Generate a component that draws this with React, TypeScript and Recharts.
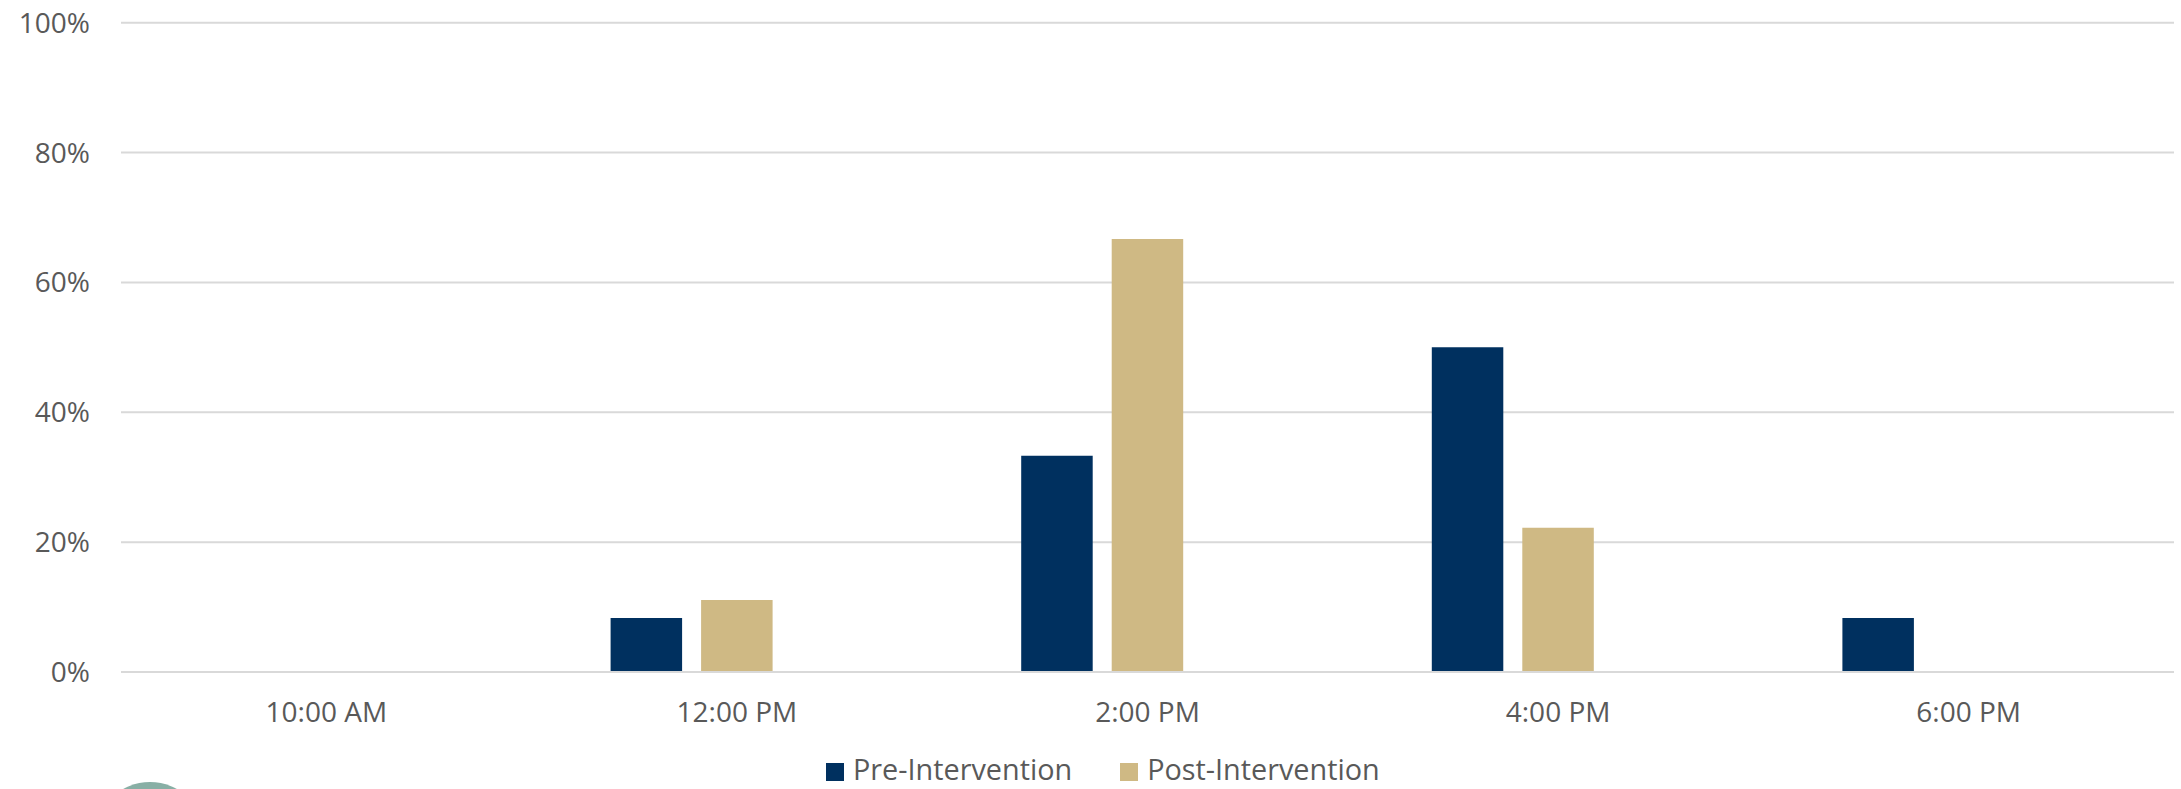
import React from 'react';
import { BarChart, Bar, XAxis, YAxis, CartesianGrid, Legend } from 'recharts';

// Share of events by time of day, before and after the intervention (percent)
const timeSlots = ['10:00 AM', '12:00 PM', '2:00 PM', '4:00 PM', '6:00 PM'];
const preIntervention = [0, 8.3, 33.3, 50, 8.3];
const postIntervention = [0, 11.1, 66.7, 22.2, 0];
// Third slot in each cluster carries no values; it keeps the two visible bars left of the tick
const reservedSlot = [0, 0, 0, 0, 0];
const percentTicks = [0, 20, 40, 60, 80, 100];
const seriesOrder = ['Pre-Intervention', 'Post-Intervention'];

const NAVY = '#00305F';
const GOLD = '#CFB984';
const TEXT = '#595959';
const GRID = '#D9D9D9';
const FONT = '"Open Sans", sans-serif';

const rows = timeSlots.map((slot, i) => ({
  slot,
  pre: preIntervention[i],
  post: postIntervention[i],
  reserved: reservedSlot[i],
}));

const renderLegend = (props: any) => {
  const items = (props.payload || [])
    .filter((p: any) => p.type !== 'none' && seriesOrder.includes(p.value))
    .sort((a: any, b: any) => seriesOrder.indexOf(a.value) - seriesOrder.indexOf(b.value));
  return (
    <div style={{ display: 'flex', alignItems: 'flex-start', height: 28, fontFamily: FONT }}>
      {items.map((item: any, idx: number) => (
        <div
          key={item.value}
          style={{ display: 'flex', alignItems: 'flex-start', marginRight: idx < items.length - 1 ? 48 : 0 }}
        >
          <span
            style={{ width: 18, height: 18, background: item.color, display: 'inline-block', marginRight: 9, marginTop: 8 }}
          />
          <span style={{ fontSize: 28.8, lineHeight: '28px', color: TEXT, whiteSpace: 'nowrap' }}>{item.value}</span>
        </div>
      ))}
    </div>
  );
};

export default function App() {
  return (
    <div
      style={{
        position: 'absolute',
        left: 0,
        top: 0,
        width: 2181,
        height: 789,
        overflow: 'hidden',
        background: '#FFFFFF',
      }}
    >
      <BarChart
        width={2181}
        height={789}
        data={rows}
        margin={{ top: 22.7, right: 7, bottom: 0, left: 0 }}
        barSize={71.5}
        barGap={19}
        style={{ fontFamily: FONT }}
      >
        <CartesianGrid vertical={false} stroke={GRID} strokeWidth={2} />
        <XAxis
          dataKey="slot"
          height={117}
          axisLine={{ stroke: GRID, strokeWidth: 2 }}
          tickLine={false}
          tickMargin={24}
          tick={{ fill: TEXT, fontSize: 28, fontFamily: FONT }}
          interval={0}
        />
        <YAxis
          width={121}
          domain={[0, 100]}
          ticks={percentTicks}
          tickFormatter={(v: number) => `${v}%`}
          axisLine={false}
          tickLine={false}
          tickMargin={25}
          tick={{ fill: TEXT, fontSize: 28, fontFamily: FONT }}
        />
        <Legend
          layout="horizontal"
          verticalAlign="middle"
          align="center"
          content={renderLegend}
          wrapperStyle={{ left: 826, top: 755, width: 'auto', height: 28, bottom: 'auto', right: 'auto' }}
        />
        <Bar dataKey="pre" name="Pre-Intervention" fill={NAVY} isAnimationActive={false} />
        <Bar dataKey="post" name="Post-Intervention" fill={GOLD} isAnimationActive={false} />
        <Bar dataKey="reserved" name="" fill="transparent" legendType="none" isAnimationActive={false} />
      </BarChart>
      <div
        style={{
          position: 'absolute',
          left: 95,
          top: 782,
          width: 110,
          height: 110,
          borderRadius: '50%',
          background: '#88AFA5',
        }}
      />
    </div>
  );
}
